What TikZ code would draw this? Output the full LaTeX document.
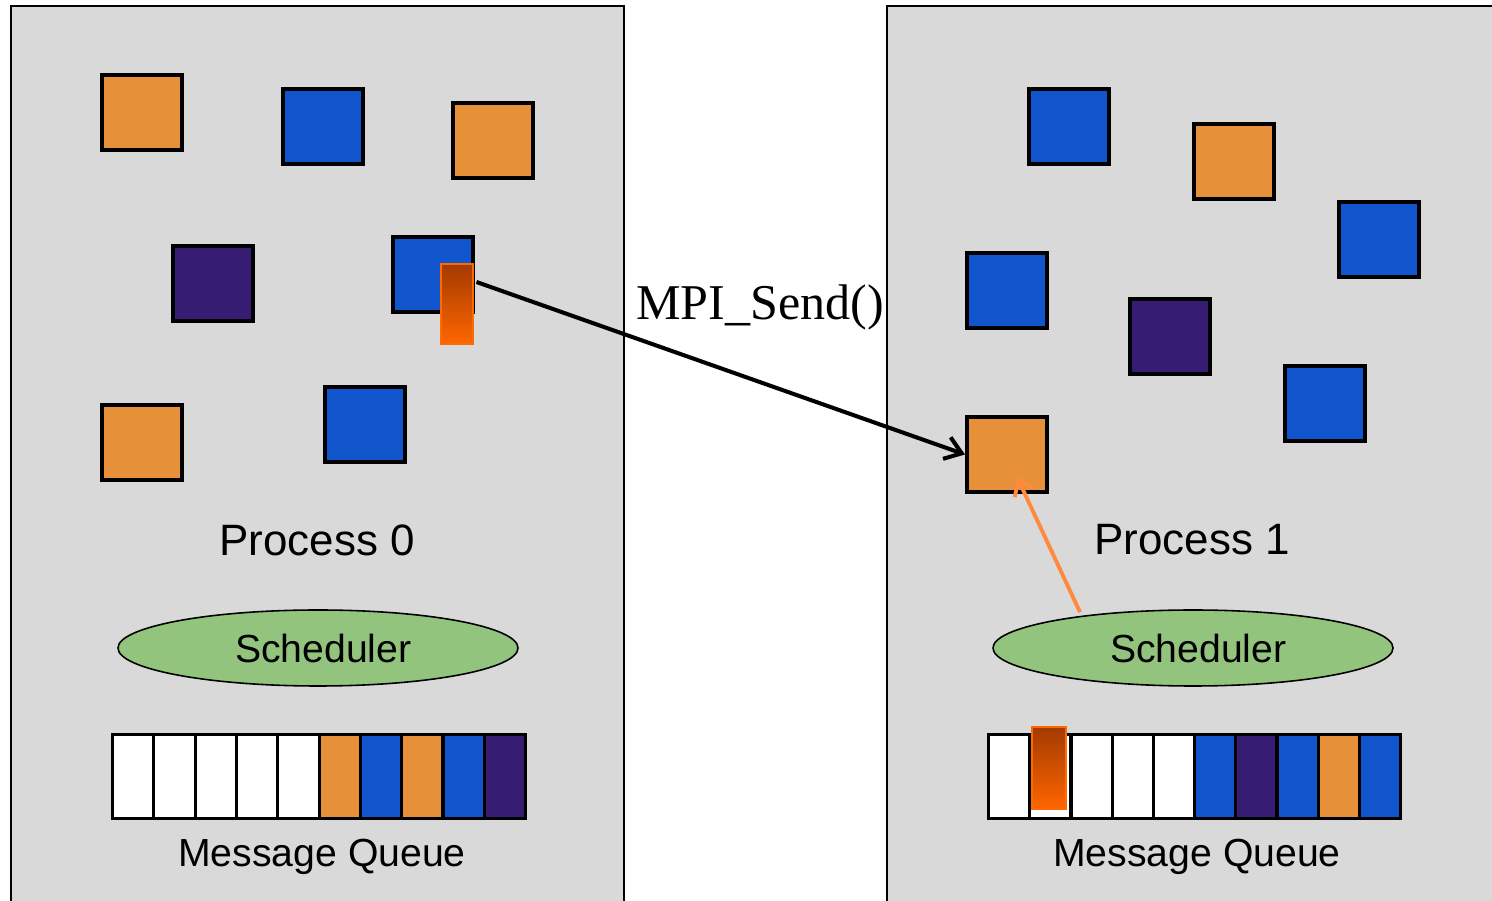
\documentclass[tikz,border=0pt]{standalone}
\usepackage{fontspec}
\setmainfont{Liberation Serif}
\newfontfamily\arialf{Liberation Sans}
\usetikzlibrary{arrows.meta,calc,shapes.geometric}
\definecolor{panelgray}{HTML}{D9D9D9}
\definecolor{sqorange}{HTML}{E6913A}
\definecolor{sqblue}{HTML}{1155CC}
\definecolor{sqpurple}{HTML}{361C73}
\definecolor{schedgreen}{HTML}{93C47D}
\definecolor{msgtop}{HTML}{A33A00}
\definecolor{msgbot}{HTML}{FF6600}
\definecolor{msgedge}{HTML}{FF6A00}
\definecolor{ptrorange}{HTML}{FF8A3D}
\tikzset{
  sq/.style={draw=black, line width=2.5pt, minimum width=84*0.02cm-2.5pt, minimum height=79*0.02cm-2.5pt, inner sep=0pt, anchor=north west},
  osq/.style={sq, fill=sqorange},
  bsq/.style={sq, fill=sqblue},
  psq/.style={sq, fill=sqpurple},
  msgbar/.style={draw=msgedge, line width=1.4pt, top color=msgtop, bottom color=msgbot, inner sep=0pt, anchor=north west},
  cell/.style={draw=black, line width=1.8pt, minimum width=41.3*0.02cm, minimum height=84*0.02cm, inner sep=0pt, anchor=north west},
  wcell/.style={cell, fill=white},
  ocell/.style={cell, fill=sqorange},
  bcell/.style={cell, fill=sqblue},
  pcell/.style={cell, fill=sqpurple},
  sched/.style={ellipse, draw=black, line width=0.9pt, fill=schedgreen, minimum width=400*0.02cm, minimum height=76*0.02cm, inner sep=0pt, font=\arialf\fontsize{22.3}{26}\selectfont},
  ptitle/.style={font=\arialf\fontsize{25}{30}\selectfont},
  qtitle/.style={font=\arialf\fontsize{22.3}{26}\selectfont},
  panel/.style={fill=panelgray},
  pedge/.style={draw=black, line width=1.2pt},
  sendarrow/.style={draw=black, line width=2.3pt, -{Straight Barb[length=9pt,width=13pt]}},
  ptrarrow/.style={draw=ptrorange, line width=2.2pt, -{Straight Barb[length=8pt,width=12pt]}}
}
\begin{document}
\begin{tikzpicture}[x=0.02cm,y=-0.02cm]
\useasboundingbox (0,0) rectangle (1492,901);
% panels
\fill[panel] (11,6) rectangle (624,901);
\draw[pedge] (11,901) -- (11,6) -- (624,6) -- (624,901);
\fill[panel] (887,6) rectangle (1492,901);
\draw[pedge] (887,901) -- (887,6) -- (1492,6);
% process 0 squares
\node[osq] (a1) at (100,73) {};
\node[bsq] (a2) at (281,87) {};
\node[osq] (a3) at (451,101) {};
\node[psq] (a4) at (171,244) {};
\node[bsq] (a5) at (391,235) {};
\node[osq] (a6) at (100,403) {};
\node[bsq] (a7) at (323,385) {};
\node[msgbar, minimum width=32*0.02cm, minimum height=80*0.02cm] (bar) at (440,263) {};
% process 1 squares
\node[bsq] (b1) at (1027,87) {};
\node[osq] (b2) at (1192,122) {};
\node[bsq] (b3) at (1337,200) {};
\node[bsq] (b4) at (965,251) {};
\node[psq] (b5) at (1128,297) {};
\node[bsq] (b6) at (1283,364) {};
\node[osq] (b7) at (965,415) {};
% titles
\node[ptitle] (t0) at (317,540) {Process 0};
\node[ptitle] (t1) at (1192,540) {Process 1};
% schedulers
\node[sched] (s0) at (318,648) {\hspace*{6pt}Scheduler};
\node[sched] (s1) at (1193,648) {\hspace*{6pt}Scheduler};
% queue 0
\node[wcell] (q0c1) at (111,733) {};
\node[wcell] (q0c2) at (152.3,733) {};
\node[wcell] (q0c3) at (193.6,733) {};
\node[wcell] (q0c4) at (234.9,733) {};
\node[wcell] (q0c5) at (276.2,733) {};
\node[ocell] (q0c6) at (317.5,733) {};
\node[bcell] (q0c7) at (358.8,733) {};
\node[ocell] (q0c8) at (400.1,733) {};
\node[bcell] (q0c9) at (441.4,733) {};
\node[pcell] (q0c10) at (482.7,733) {};
% queue 1
\node[wcell] (q1c1) at (987,733) {};
\node[wcell] (q1c2) at (1028.2,733) {};
\node[wcell] (q1c3) at (1069.4,733) {};
\node[wcell] (q1c4) at (1110.6,733) {};
\node[wcell] (q1c5) at (1151.8,733) {};
\node[bcell] (q1c6) at (1193,733) {};
\node[pcell] (q1c7) at (1234.2,733) {};
\node[bcell] (q1c8) at (1275.4,733) {};
\node[ocell] (q1c9) at (1316.6,733) {};
\node[bcell] (q1c10) at (1357.8,733) {};
\node[msgbar, minimum width=34*0.02cm, minimum height=82*0.02cm] (bar1) at (1031,726) {};
% queue titles
\node[qtitle] (m0) at (322,857) {Message Queue};
\node[qtitle] (m1) at (1197,857) {Message Queue};
% send label
\node[font=\fontsize{28.5}{34}\selectfont, inner sep=0pt] (send) at (760,307) {MPI\_Send()};
% arrows
\draw[sendarrow] ($(bar.north east)+(2,19)$) -- (b7.west);
\draw[ptrarrow] ($(s1.north)+(-113,3)$) -- ($(b7.south)+(10,-17)$);
\end{tikzpicture}
\end{document}
